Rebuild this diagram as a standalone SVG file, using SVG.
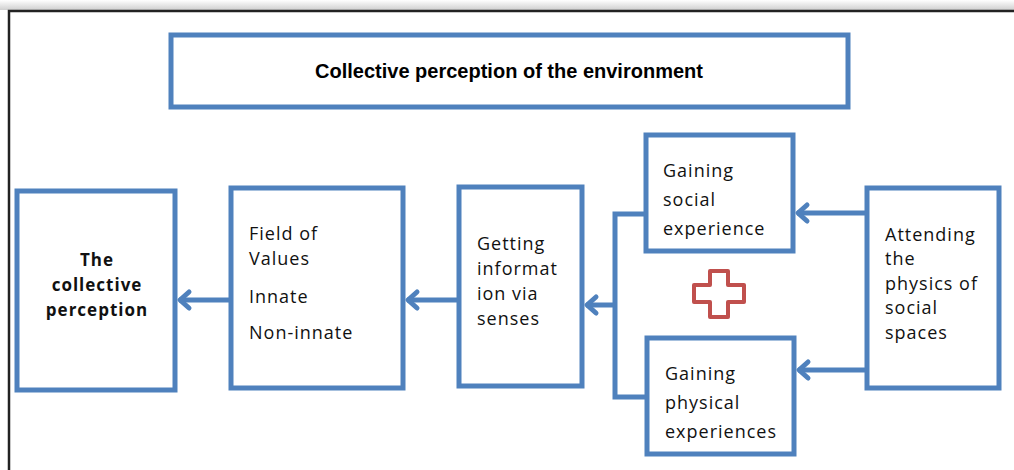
<svg xmlns="http://www.w3.org/2000/svg" width="1014" height="470" viewBox="0 0 1014 470">
<defs>
<linearGradient id="shade" x1="0" y1="0" x2="0" y2="1">
<stop offset="0" stop-color="#ffffff"/>
<stop offset="1" stop-color="#cfcfcf"/>
</linearGradient>
<marker id="arr" markerUnits="userSpaceOnUse" markerWidth="24" markerHeight="24" viewBox="-16 -12 24 24" refX="0" refY="0" orient="auto">
<path d="M-10,-8 L-1,0 L-10,8" fill="none" stroke="#4F81BD" stroke-width="5" stroke-linecap="round" stroke-linejoin="round"/>
</marker>
<style>
.box{fill:#ffffff;stroke:#4F81BD;stroke-width:5}
.conn{fill:none;stroke:#4F81BD;stroke-width:5}
.t{font-family:"Open Sans","Liberation Sans",sans-serif;font-size:18px;fill:#111;letter-spacing:1px}
.b{font-weight:bold;font-size:17px}
.title{font-family:"Liberation Sans",sans-serif;font-size:20px;font-weight:bold;fill:#000}
</style>
</defs>
<rect x="0" y="0" width="1014" height="10" fill="url(#shade)"/>
<rect x="0" y="10" width="1014" height="460" fill="#ffffff"/>
<path d="M9,470 L9,11 L1014,11" fill="none" stroke="#222" stroke-width="2.5"/>

<g id="title">
<rect class="box" x="171" y="35" width="677" height="72"/>
<text class="title" x="509" y="78" text-anchor="middle">Collective perception of the environment</text>
</g>

<g id="node-collective">
<rect class="box" x="17" y="191" width="158" height="199"/>
<text class="t b" text-anchor="middle"><tspan x="97" y="266">The</tspan><tspan x="97" y="291">collective</tspan><tspan x="97" y="316">perception</tspan></text>
</g>

<g id="node-values">
<rect class="box" x="231" y="188" width="172" height="200"/>
<text class="t"><tspan x="249" y="240">Field of</tspan><tspan x="249" y="265">Values</tspan><tspan x="249" y="303">Innate</tspan><tspan x="249" y="339">Non-innate</tspan></text>
</g>

<g id="node-senses">
<rect class="box" x="459" y="187" width="123" height="199"/>
<text class="t"><tspan x="477" y="250">Getting</tspan><tspan x="477" y="275">informat</tspan><tspan x="477" y="300">ion via</tspan><tspan x="477" y="325">senses</tspan></text>
</g>

<g id="node-social">
<rect class="box" x="646" y="135" width="147" height="116"/>
<text class="t"><tspan x="663" y="177">Gaining</tspan><tspan x="663" y="206">social</tspan><tspan x="663" y="235">experience</tspan></text>
</g>

<g id="node-physical">
<rect class="box" x="647" y="338" width="147" height="116"/>
<text class="t"><tspan x="665" y="380">Gaining</tspan><tspan x="665" y="409">physical</tspan><tspan x="665" y="438">experiences</tspan></text>
</g>

<g id="node-attending">
<rect class="box" x="867" y="188" width="132" height="200"/>
<text class="t"><tspan x="885" y="241">Attending</tspan><tspan x="885" y="265">the</tspan><tspan x="885" y="290">physics of</tspan><tspan x="885" y="314">social</tspan><tspan x="885" y="339">spaces</tspan></text>
</g>

<g id="plus">
<path d="M710,271 L728,271 L728,285 L744,285 L744,302 L728,302 L728,317 L710,317 L710,302 L694,302 L694,285 L710,285 Z" fill="#ffffff" stroke="#C0504D" stroke-width="4" stroke-linejoin="round"/>
</g>

<g id="connectors">
<line class="conn" x1="229" y1="300" x2="179" y2="300" marker-end="url(#arr)"/>
<line class="conn" x1="457" y1="300" x2="407" y2="300" marker-end="url(#arr)"/>
<path class="conn" d="M644,214 L615,214 L615,397 L645,397"/>
<line class="conn" x1="615" y1="305" x2="586" y2="305" marker-end="url(#arr)"/>
<line class="conn" x1="865" y1="213" x2="797" y2="213" marker-end="url(#arr)"/>
<line class="conn" x1="865" y1="370" x2="798" y2="370" marker-end="url(#arr)"/>
</g>
</svg>
